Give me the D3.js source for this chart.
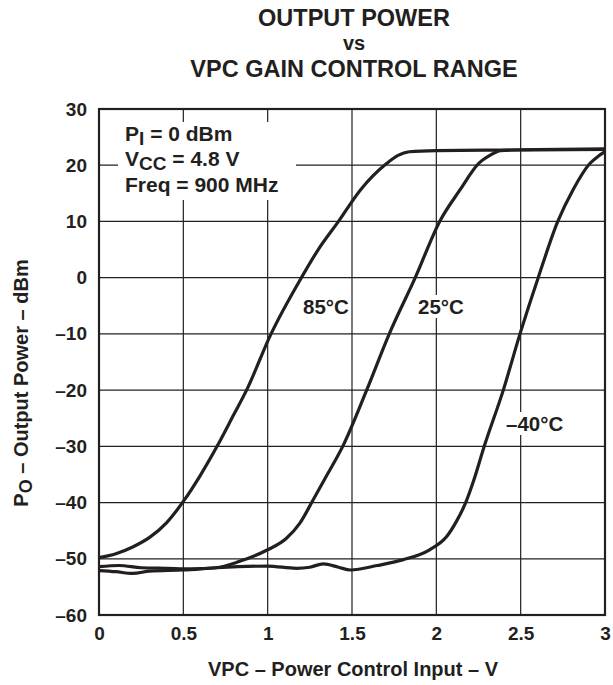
<!DOCTYPE html>
<html>
<head>
<meta charset="utf-8">
<script src="https://cdn.jsdelivr.net/npm/d3@7"></script>
<style>
  html, body { margin: 0; padding: 0; background: #fff; }
  svg { display: block; }
  text { font-family: "Liberation Sans", Arial, Helvetica, sans-serif; font-weight: bold; fill: #231f20; }
</style>
</head>
<body>
<script>
// ---- data ----
const titleLines = ["OUTPUT POWER", "vs", "VPC GAIN CONTROL RANGE"];
const xTicks = [0, 0.5, 1, 1.5, 2, 2.5, 3];
const xTickLabels = ["0", "0.5", "1", "1.5", "2", "2.5", "3"];
const yTicks = [30, 20, 10, 0, -10, -20, -30, -40, -50, -60];
const yTickLabels = ["30", "20", "10", "0", "–10", "–20", "–30", "–40", "–50", "–60"];

const seriesNames = ["85°C", "25°C", "–40°C"];
const vpc85 = [0, 0.1, 0.2, 0.3, 0.4, 0.5, 0.6, 0.7, 0.8, 0.875, 1.02, 1.2, 1.3, 1.42, 1.55, 1.705, 1.77, 1.84, 2.0, 2.4, 3.0];
const po85  = [-49.8, -49.1, -47.9, -46.2, -43.6, -39.8, -35.2, -30, -24.3, -20, -10, 0, 5, 10, 15.6, 20.3, 21.7, 22.4, 22.6, 22.7, 22.8];

const vpc25 = [0, 0.12, 0.25, 0.4, 0.55, 0.69, 0.83, 1.0, 1.11, 1.19, 1.27, 1.35, 1.445, 1.587, 1.721, 1.875, 2.02, 2.14, 2.25, 2.32, 2.38, 2.6, 3.0];
const po25  = [-51.4, -51.2, -51.6, -51.7, -51.8, -51.6, -50.5, -48.4, -46.4, -43.7, -39.5, -35.2, -30, -20, -10, 0, 10, 15.6, 20.3, 21.8, 22.6, 22.8, 22.9];

const vpc40 = [0, 0.1, 0.2, 0.3, 0.5, 0.7, 1.0, 1.17, 1.25, 1.33, 1.42, 1.49, 1.65, 1.8, 1.96, 2.06, 2.12, 2.17, 2.22, 2.284, 2.397, 2.496, 2.604, 2.72, 2.81, 2.91, 2.96, 3.0];
const po40  = [-52.1, -52.3, -52.6, -52.2, -52.0, -51.6, -51.3, -51.7, -51.5, -50.9, -51.5, -52.0, -51.2, -50.2, -48.4, -46.1, -43.3, -40.3, -36.2, -30, -20, -10, 0, 10, 15.6, 20.3, 21.6, 22.4];

// ---- layout ----
const W = 613, H = 685;
const M = { left: 99, right: 605, top: 109, bottom: 615 };

const svg = d3.select("body").append("svg").attr("width", W).attr("height", H);

const x = d3.scaleLinear().domain([0, 3]).range([M.left, M.right]);
const y = d3.scaleLinear().domain([-60, 30]).range([M.bottom, M.top]);

// title
svg.append("g").selectAll("text").data(titleLines).join("text")
  .attr("x", 354).attr("y", (d, i) => [26, 50, 77][i])
  .attr("text-anchor", "middle")
  .style("font-size", (d, i) => i === 1 ? "20px" : "23.5px")
  .text(d => d);

// grid
const grid = svg.append("g").attr("stroke", "#231f20").attr("stroke-width", 1.2);
grid.selectAll("line.v").data(xTicks.filter(d => d > 0 && d < 3)).join("line")
  .attr("x1", d => x(d)).attr("x2", d => x(d)).attr("y1", M.top).attr("y2", M.bottom);
grid.selectAll("line.h").data(yTicks.filter(d => d > -60 && d < 30)).join("line")
  .attr("y1", d => y(d)).attr("y2", d => y(d)).attr("x1", M.left).attr("x2", M.right);

// legend mask + text
svg.append("rect").attr("x", 118).attr("y", 122).attr("width", 178).attr("height", 78).attr("fill", "#fff");
const leg = svg.append("g").style("font-size", "21px");
const l1 = leg.append("text").attr("x", 125).attr("y", 141);
l1.append("tspan").text("P");
l1.append("tspan").attr("dy", 4).style("font-size", "19px").text("I");
l1.append("tspan").attr("dy", -4).text(" = 0 dBm");
const l2 = leg.append("text").attr("x", 125).attr("y", 166);
l2.append("tspan").text("V");
l2.append("tspan").attr("dy", 4).style("font-size", "19px").text("CC");
l2.append("tspan").attr("dy", -4).text(" = 4.8 V");
leg.append("text").attr("x", 125).attr("y", 192).text("Freq = 900 MHz");

// curve labels with white background
const labelPos = [[0, 303, 314], [1, 418, 314], [2, 506, 431]];
const lab = svg.append("g").style("font-size", "20.5px");
labelPos.forEach(([i, lx, ly]) => {
  const t = lab.append("text").attr("x", lx).attr("y", ly).text(seriesNames[i]);
  const bb = t.node().getBBox();
  lab.insert("rect", "text").attr("x", bb.x - 1).attr("y", bb.y).attr("width", bb.width + 2).attr("height", bb.height).attr("fill", "#fff");
});

// curves
const line = d3.line().x(d => x(d[0])).y(d => y(d[1])).curve(d3.curveMonotoneX);
const series = [d3.zip(vpc85, po85), d3.zip(vpc25, po25), d3.zip(vpc40, po40)];
svg.append("g").selectAll("path").data(series).join("path")
  .attr("d", line).attr("fill", "none").attr("stroke", "#231f20").attr("stroke-width", 3.2)
  .attr("stroke-linejoin", "round");

// frame
svg.append("rect").attr("x", M.left).attr("y", M.top).attr("width", M.right - M.left).attr("height", M.bottom - M.top)
  .attr("fill", "none").attr("stroke", "#231f20").attr("stroke-width", 2.2);

// axes
const yAxis = d3.axisLeft(y).tickValues(yTicks).tickSize(0).tickPadding(12)
  .tickFormat((d, i) => yTickLabels[i]);
const gy = svg.append("g").attr("transform", `translate(${M.left},0)`).call(yAxis);
gy.select(".domain").remove();
gy.selectAll("text").style("font-size", "19px").attr("fill", "#231f20")
  .style("font-family", '"Liberation Sans", Arial, sans-serif').style("font-weight", "bold");

const xAxis = d3.axisBottom(x).tickValues(xTicks).tickSize(0).tickPadding(12)
  .tickFormat((d, i) => xTickLabels[i]);
const gx = svg.append("g").attr("transform", `translate(0,${M.bottom})`).call(xAxis);
gx.select(".domain").remove();
gx.selectAll("text").style("font-size", "19px").attr("fill", "#231f20")
  .style("font-family", '"Liberation Sans", Arial, sans-serif').style("font-weight", "bold");

// axis titles
svg.append("text").attr("x", 353).attr("y", 676).attr("text-anchor", "middle")
  .style("font-size", "20px").text("VPC – Power Control Input – V");

const yt = svg.append("text").attr("transform", "translate(28,383) rotate(-90)").attr("text-anchor", "middle")
  .style("font-size", "20px");
yt.append("tspan").text("P");
yt.append("tspan").attr("dy", 4).style("font-size", "18px").text("O");
yt.append("tspan").attr("dy", -4).text(" – Output Power – dBm");
</script>
</body>
</html>
